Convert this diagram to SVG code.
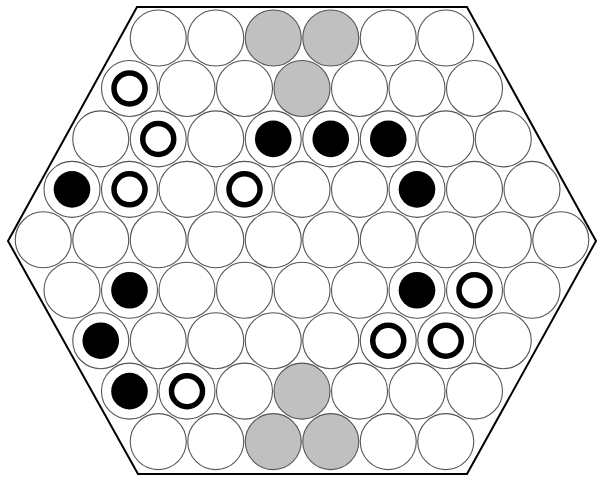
<svg xmlns="http://www.w3.org/2000/svg" width="602" height="487" viewBox="0 0 602 487">
<style>
.c{fill:#fff;stroke:#555;stroke-width:1.1}
.g{fill:#c0c0c0;stroke:#555;stroke-width:1.1}
.b{fill:#000;stroke:none}
.r{fill:#fff;stroke:#000;stroke-width:5.5}
.hex{fill:#fff;stroke:#000;stroke-width:2}
</style>
<defs>
<circle id="cell" r="28" class="c"/>
<circle id="gcell" r="28" class="g"/>
<circle id="bp" r="18.3" class="b"/>
<circle id="rp" r="15.5" class="r"/>
</defs>
<rect width="602" height="487" fill="#fff"/>
<polygon class="hex" points="137,7 467,7 596,241 467,474 138,474 8,241"/>
<g id="connectors"/>
<g id="row0">
<g id="n0_0"><use href="#cell" x="158.25" y="38"/></g>
<g id="n0_1"><use href="#cell" x="215.75" y="38"/></g>
<g id="n0_2"><use href="#gcell" x="273.25" y="38"/></g>
<g id="n0_3"><use href="#gcell" x="330.75" y="38"/></g>
<g id="n0_4"><use href="#cell" x="388.25" y="38"/></g>
<g id="n0_5"><use href="#cell" x="445.75" y="38"/></g>
</g>
<g id="row1">
<g id="n1_0"><use href="#cell" x="129.5" y="88.45"/><use href="#rp" x="129.5" y="88.45"/></g>
<g id="n1_1"><use href="#cell" x="187" y="88.45"/></g>
<g id="n1_2"><use href="#cell" x="244.5" y="88.45"/></g>
<g id="n1_3"><use href="#gcell" x="302" y="88.45"/></g>
<g id="n1_4"><use href="#cell" x="359.5" y="88.45"/></g>
<g id="n1_5"><use href="#cell" x="417" y="88.45"/></g>
<g id="n1_6"><use href="#cell" x="474.5" y="88.45"/></g>
</g>
<g id="row2">
<g id="n2_0"><use href="#cell" x="100.75" y="138.9"/></g>
<g id="n2_1"><use href="#cell" x="158.25" y="138.9"/><use href="#rp" x="158.25" y="138.9"/></g>
<g id="n2_2"><use href="#cell" x="215.75" y="138.9"/></g>
<g id="n2_3"><use href="#cell" x="273.25" y="138.9"/><use href="#bp" x="273.25" y="138.9"/></g>
<g id="n2_4"><use href="#cell" x="330.75" y="138.9"/><use href="#bp" x="330.75" y="138.9"/></g>
<g id="n2_5"><use href="#cell" x="388.25" y="138.9"/><use href="#bp" x="388.25" y="138.9"/></g>
<g id="n2_6"><use href="#cell" x="445.75" y="138.9"/></g>
<g id="n2_7"><use href="#cell" x="503.25" y="138.9"/></g>
</g>
<g id="row3">
<g id="n3_0"><use href="#cell" x="72" y="189.35"/><use href="#bp" x="72" y="189.35"/></g>
<g id="n3_1"><use href="#cell" x="129.5" y="189.35"/><use href="#rp" x="129.5" y="189.35"/></g>
<g id="n3_2"><use href="#cell" x="187" y="189.35"/></g>
<g id="n3_3"><use href="#cell" x="244.5" y="189.35"/><use href="#rp" x="244.5" y="189.35"/></g>
<g id="n3_4"><use href="#cell" x="302" y="189.35"/></g>
<g id="n3_5"><use href="#cell" x="359.5" y="189.35"/></g>
<g id="n3_6"><use href="#cell" x="417" y="189.35"/><use href="#bp" x="417" y="189.35"/></g>
<g id="n3_7"><use href="#cell" x="474.5" y="189.35"/></g>
<g id="n3_8"><use href="#cell" x="532" y="189.35"/></g>
</g>
<g id="row4">
<g id="n4_0"><use href="#cell" x="43.25" y="239.8"/></g>
<g id="n4_1"><use href="#cell" x="100.75" y="239.8"/></g>
<g id="n4_2"><use href="#cell" x="158.25" y="239.8"/></g>
<g id="n4_3"><use href="#cell" x="215.75" y="239.8"/></g>
<g id="n4_4"><use href="#cell" x="273.25" y="239.8"/></g>
<g id="n4_5"><use href="#cell" x="330.75" y="239.8"/></g>
<g id="n4_6"><use href="#cell" x="388.25" y="239.8"/></g>
<g id="n4_7"><use href="#cell" x="445.75" y="239.8"/></g>
<g id="n4_8"><use href="#cell" x="503.25" y="239.8"/></g>
<g id="n4_9"><use href="#cell" x="560.75" y="239.8"/></g>
</g>
<g id="row5">
<g id="n5_0"><use href="#cell" x="72" y="290.25"/></g>
<g id="n5_1"><use href="#cell" x="129.5" y="290.25"/><use href="#bp" x="129.5" y="290.25"/></g>
<g id="n5_2"><use href="#cell" x="187" y="290.25"/></g>
<g id="n5_3"><use href="#cell" x="244.5" y="290.25"/></g>
<g id="n5_4"><use href="#cell" x="302" y="290.25"/></g>
<g id="n5_5"><use href="#cell" x="359.5" y="290.25"/></g>
<g id="n5_6"><use href="#cell" x="417" y="290.25"/><use href="#bp" x="417" y="290.25"/></g>
<g id="n5_7"><use href="#cell" x="474.5" y="290.25"/><use href="#rp" x="474.5" y="290.25"/></g>
<g id="n5_8"><use href="#cell" x="532" y="290.25"/></g>
</g>
<g id="row6">
<g id="n6_0"><use href="#cell" x="100.75" y="340.7"/><use href="#bp" x="100.75" y="340.7"/></g>
<g id="n6_1"><use href="#cell" x="158.25" y="340.7"/></g>
<g id="n6_2"><use href="#cell" x="215.75" y="340.7"/></g>
<g id="n6_3"><use href="#cell" x="273.25" y="340.7"/></g>
<g id="n6_4"><use href="#cell" x="330.75" y="340.7"/></g>
<g id="n6_5"><use href="#cell" x="388.25" y="340.7"/><use href="#rp" x="388.25" y="340.7"/></g>
<g id="n6_6"><use href="#cell" x="445.75" y="340.7"/><use href="#rp" x="445.75" y="340.7"/></g>
<g id="n6_7"><use href="#cell" x="503.25" y="340.7"/></g>
</g>
<g id="row7">
<g id="n7_0"><use href="#cell" x="129.5" y="391.15"/><use href="#bp" x="129.5" y="391.15"/></g>
<g id="n7_1"><use href="#cell" x="187" y="391.15"/><use href="#rp" x="187" y="391.15"/></g>
<g id="n7_2"><use href="#cell" x="244.5" y="391.15"/></g>
<g id="n7_3"><use href="#gcell" x="302" y="391.15"/></g>
<g id="n7_4"><use href="#cell" x="359.5" y="391.15"/></g>
<g id="n7_5"><use href="#cell" x="417" y="391.15"/></g>
<g id="n7_6"><use href="#cell" x="474.5" y="391.15"/></g>
</g>
<g id="row8">
<g id="n8_0"><use href="#cell" x="158.25" y="441.6"/></g>
<g id="n8_1"><use href="#cell" x="215.75" y="441.6"/></g>
<g id="n8_2"><use href="#gcell" x="273.25" y="441.6"/></g>
<g id="n8_3"><use href="#gcell" x="330.75" y="441.6"/></g>
<g id="n8_4"><use href="#cell" x="388.25" y="441.6"/></g>
<g id="n8_5"><use href="#cell" x="445.75" y="441.6"/></g>
</g>
</svg>
